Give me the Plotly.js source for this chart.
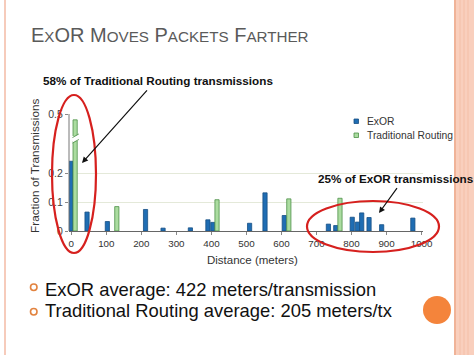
<!DOCTYPE html>
<html>
<head>
<meta charset="utf-8">
<script src="https://cdn.plot.ly/plotly-3.0.1.min.js"></script>
<style>html,body{margin:0;padding:0;background:#fff;}#chart{width:474px;height:355px;}</style>
</head>
<body>
<div id="chart"></div>
<script>
// ---- data ----
const exorDistance = [-1, 45, 103, 212, 262, 340, 390, 404, 509, 553, 608, 734, 755, 802, 817, 829, 850, 886, 975];
const exorFraction = [0.243, 0.066, 0.033, 0.075, 0.010, 0.011, 0.039, 0.030, 0.027, 0.133, 0.054, 0.024, 0.019, 0.048, 0.031, 0.063, 0.047, 0.022, 0.045];
const tradDistance = [11, 130, 416, 621, 767];
const tradFraction = [0.48, 0.085, 0.109, 0.112, 0.114];
const xTickVals = [0, 100, 200, 300, 400, 500, 600, 700, 800, 900, 1000];
const xTickText = ['0', '100', '200', '300', '400', '500', '600', '700', '800', '900', '1000'];
const yLowTicks = [0, 0.1, 0.2];
const yLowText = ['0', '0.1', '0.2'];
const yHighTicks = [0.5];
const yHighText = ['0.5'];

// ---- layout helpers (pixel -> paper) ----
const ML = 69, MR = 51, MT = 114, MB = 124, W = 474, H = 355;
const PW = W - ML - MR, PH = H - MT - MB;
const X = px => (px - ML) / PW;
const Y = py => (H - MB - py) / PH;

const FONT = 'Liberation Sans, Arial, Helvetica, sans-serif';
const BLUE = '#1f6db3', BLUE_LINE = '#174f84';
const GREEN = '#abdca0', GREEN_LINE = '#4d9148';
const BAR_W = 12;

const traces = [];
['y', 'y2'].forEach((ax, i) => {
  traces.push({
    type: 'bar', x: exorDistance, y: exorFraction, yaxis: ax, width: BAR_W,
    name: 'ExOR', showlegend: false, hoverinfo: 'skip',
    marker: {color: BLUE, line: {color: BLUE_LINE, width: 0.8}}
  });
  traces.push({
    type: 'bar', x: tradDistance, y: tradFraction, yaxis: ax, width: BAR_W,
    name: 'Traditional Routing', showlegend: false, hoverinfo: 'skip',
    marker: {color: GREEN, line: {color: GREEN_LINE, width: 0.8}}
  });
});

const lowTop = 141, highBottom = 136;
const lowDomTop = Y(lowTop), highDomBot = Y(highBottom);
const pxPerUnit = 287;
const lowRangeTop = (H - MB - lowTop) / pxPerUnit;
const highRangeBot = 0.5 - (highBottom - MT) / pxPerUnit;

const tickFont = {family: FONT, size: 10.5, color: '#444'};

const layout = {
  width: W, height: H,
  margin: {l: ML, r: MR, t: MT, b: MB, pad: 0},
  paper_bgcolor: '#ffffff', plot_bgcolor: 'rgba(0,0,0,0)',
  barmode: 'overlay', showlegend: false,
  font: {family: FONT},
  xaxis: {
    range: [-6.5, 1004], tickvals: xTickVals, ticktext: xTickText,
    showgrid: false, zeroline: false, showline: true, linecolor: '#666', linewidth: 1,
    ticks: 'outside', ticklen: 3, tickcolor: '#888',
    tickfont: {family: FONT, size: 9.8, color: '#333'}, anchor: 'y', fixedrange: true
  },
  yaxis: {
    domain: [0, lowDomTop], range: [0, lowRangeTop],
    tickvals: yLowTicks, ticktext: yLowText,
    showgrid: true, gridcolor: '#e4e9d9', gridwidth: 1, zeroline: false, showline: false,
    ticks: 'outside', ticklen: 3, tickcolor: '#888', tickfont: tickFont, anchor: 'x'
  },
  yaxis2: {
    domain: [highDomBot, 1], range: [highRangeBot, 0.5005],
    tickvals: yHighTicks, ticktext: yHighText,
    showgrid: true, gridcolor: '#e4e9d9', gridwidth: 1, zeroline: false, showline: false,
    ticks: 'outside', ticklen: 3, tickcolor: '#888', tickfont: tickFont, anchor: 'x'
  },
  shapes: [
    // slide decorations
    {type: 'rect', xref: 'paper', yref: 'paper', x0: X(4), x1: X(6), y0: Y(0), y1: Y(355), fillcolor: '#f6cbbb', line: {width: 0}, layer: 'below'},
    {type: 'rect', xref: 'paper', yref: 'paper', x0: X(454), x1: X(474), y0: Y(0), y1: Y(355), fillcolor: '#f9cfbd', line: {width: 0}, layer: 'below'},
    {type: 'rect', xref: 'paper', yref: 'paper', x0: X(454), x1: X(456), y0: Y(0), y1: Y(355), fillcolor: '#f0b398', line: {width: 0}, layer: 'below'},
    {type: 'line', xref: 'paper', yref: 'paper', x0: X(460), x1: X(460), y0: Y(0), y1: Y(355), line: {color: '#f4bfa7', width: 1}, layer: 'below'},
    {type: 'line', xref: 'paper', yref: 'paper', x0: X(464), x1: X(464), y0: Y(0), y1: Y(355), line: {color: '#f4bfa7', width: 1}, layer: 'below'},
    {type: 'line', xref: 'paper', yref: 'paper', x0: X(468), x1: X(468), y0: Y(0), y1: Y(355), line: {color: '#f4bfa7', width: 1}, layer: 'below'},
    {type: 'circle', xref: 'paper', yref: 'paper', x0: X(423), x1: X(451), y0: Y(324), y1: Y(296), fillcolor: '#f4843b', line: {width: 0}},
    {type: 'circle', xref: 'paper', yref: 'paper', x0: X(30.5), x1: X(37), y0: Y(290.5), y1: Y(284), fillcolor: '#ffffff', line: {color: '#e2833f', width: 1.6}},
    {type: 'circle', xref: 'paper', yref: 'paper', x0: X(30.5), x1: X(37), y0: Y(315), y1: Y(308.5), fillcolor: '#ffffff', line: {color: '#e2833f', width: 1.6}},
    // y axis line (continuous across break)
    {type: 'line', xref: 'paper', yref: 'paper', x0: 0, x1: 0, y0: 0, y1: 1, line: {color: '#777', width: 1}},
    // broken-bar cut
    {type: 'path', xref: 'paper', yref: 'paper', path: `M${X(72.5)},${Y(143)} L${X(78.8)},${Y(139.5)} L${X(78.8)},${Y(134)} L${X(72.5)},${Y(137.5)} Z`, fillcolor: '#ffffff', line: {width: 0}},
    {type: 'line', xref: 'paper', yref: 'paper', x0: X(72.5), x1: X(78.8), y0: Y(143), y1: Y(139.5), line: {color: GREEN_LINE, width: 0.9}},
    {type: 'line', xref: 'paper', yref: 'paper', x0: X(72.5), x1: X(78.8), y0: Y(137.5), y1: Y(134), line: {color: GREEN_LINE, width: 0.9}},
    // legend swatches
    {type: 'rect', xref: 'paper', yref: 'paper', x0: X(354), x1: X(358.5), y0: Y(123.5), y1: Y(119), fillcolor: BLUE, line: {color: BLUE_LINE, width: 0.8}},
    {type: 'rect', xref: 'paper', yref: 'paper', x0: X(354), x1: X(358.5), y0: Y(137.5), y1: Y(133), fillcolor: GREEN, line: {color: GREEN_LINE, width: 0.8}},
    // red ellipses
    {type: 'circle', xref: 'paper', yref: 'paper', x0: X(52), x1: X(96), y0: Y(253), y1: Y(95), line: {color: '#d6201e', width: 2.2}},
    {type: 'circle', xref: 'paper', yref: 'paper', x0: X(307), x1: X(439), y0: Y(252), y1: Y(201), line: {color: '#d6201e', width: 2.2}}
  ],
  annotations: [
    {xref: 'paper', yref: 'paper', x: X(29), y: Y(35), xanchor: 'left', yanchor: 'middle', showarrow: false,
     text: 'E<span style="font-size:15.2px">X</span>OR M<span style="font-size:15.2px">OVES</span> P<span style="font-size:15.2px">ACKETS</span> F<span style="font-size:15.2px">ARTHER</span>',
     font: {family: FONT, size: 20, color: '#5a5a5a'}},
    {xref: 'paper', yref: 'paper', x: X(41), y: Y(81), xanchor: 'left', yanchor: 'middle', showarrow: false,
     text: '<b>58% of Traditional Routing transmissions</b>', font: {family: FONT, size: 11.7, color: '#111'}},
    {xref: 'paper', yref: 'paper', x: X(316), y: Y(178), xanchor: 'left', yanchor: 'middle', showarrow: false,
     text: '<b>25% of ExOR transmissions</b>', font: {family: FONT, size: 11.7, color: '#111'}},
    {xref: 'paper', yref: 'paper', x: X(82), y: Y(163), ax: 68, ay: -76, showarrow: true,
     arrowhead: 2, arrowsize: 1, arrowwidth: 1.2, arrowcolor: '#111'},
    {xref: 'paper', yref: 'paper', x: X(379), y: Y(213), ax: 21, ay: -29, showarrow: true,
     arrowhead: 2, arrowsize: 1, arrowwidth: 1.2, arrowcolor: '#111'},
    {xref: 'paper', yref: 'paper', x: X(35), y: Y(166), textangle: -90, xanchor: 'center', yanchor: 'middle', showarrow: false,
     text: 'Fraction of Transmissions', font: {family: FONT, size: 11.8, color: '#333'}},
    {xref: 'paper', yref: 'paper', x: X(252.5), y: Y(260), xanchor: 'center', yanchor: 'middle', showarrow: false,
     text: 'Distance (meters)', font: {family: FONT, size: 11.5, color: '#333'}},
    {xref: 'paper', yref: 'paper', x: X(365), y: Y(121.5), xanchor: 'left', yanchor: 'middle', showarrow: false,
     text: 'ExOR', font: {family: FONT, size: 10.3, color: '#333'}},
    {xref: 'paper', yref: 'paper', x: X(365), y: Y(135.5), xanchor: 'left', yanchor: 'middle', showarrow: false,
     text: 'Traditional Routing', font: {family: FONT, size: 10.3, color: '#333'}},
    {xref: 'paper', yref: 'paper', x: X(43), y: Y(289.5), xanchor: 'left', yanchor: 'middle', showarrow: false,
     text: 'ExOR average: 422 meters/transmission', font: {family: FONT, size: 18.4, color: '#111'}},
    {xref: 'paper', yref: 'paper', x: X(43), y: Y(310.5), xanchor: 'left', yanchor: 'middle', showarrow: false,
     text: 'Traditional Routing average: 205 meters/tx', font: {family: FONT, size: 18.4, color: '#111'}}
  ]
};

Plotly.newPlot('chart', traces, layout, {staticPlot: true, displayModeBar: false});
</script>
</body>
</html>
